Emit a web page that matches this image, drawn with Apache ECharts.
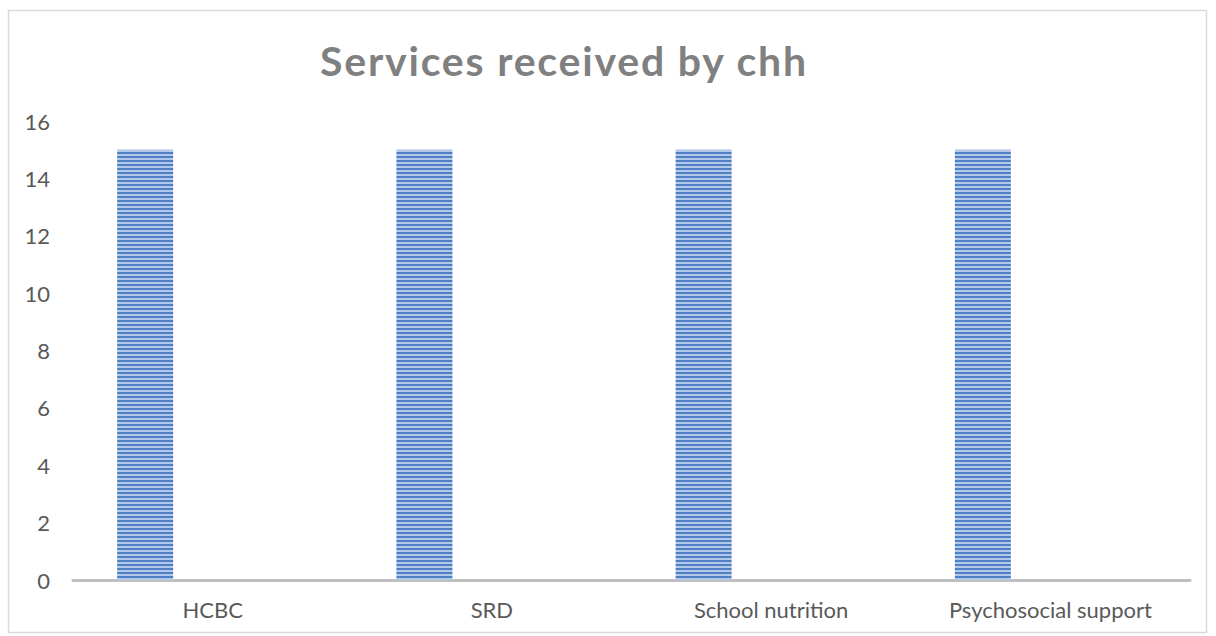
<!DOCTYPE html>
<html>
<head>
<meta charset="utf-8">
<script src="https://cdn.jsdelivr.net/npm/echarts@6/dist/echarts.min.js"></script>
<style>
html,body{margin:0;padding:0;background:#fff;}
#chart{width:1216px;height:636px;}
#chart text[style*="41px"]{letter-spacing:1.8px;}
</style>
</head>
<body>
<div id="chart"></div>
<script>
const titleText = 'Services received by chh';
const categories = ['HCBC', 'SRD', 'School nutrition', 'Psychosocial support'];
const seriesValues = [15, 15, 15, 15];
const emptySeries = [null, null, null, null];
const yMin = 0, yMax = 16, yInterval = 2;

function stripePattern() {
  const c = document.createElement('canvas');
  c.width = 4; c.height = 4;
  const ctx = c.getContext('2d');
  ctx.fillStyle = '#b3c8e8';
  ctx.fillRect(0, 0, 4, 4);
  ctx.fillStyle = '#4f7fc4';
  ctx.fillRect(0, 0, 4, 2);
  return c;
}

const chart = echarts.init(document.getElementById('chart'), null, { renderer: 'svg' });
chart.setOption({
  backgroundColor: '#fff',
  animation: false,
  graphic: [{
    type: 'rect',
    shape: { x: 8.5, y: 10.5, width: 1198, height: 622 },
    style: { fill: 'none', stroke: '#d9d9d9', lineWidth: 1.5 },
    silent: true,
    z: -1
  }],
  title: {
    text: titleText,
    left: 315,
    top: 35,
    textStyle: { fontFamily: 'Lato', fontWeight: 'bold', fontSize: 41, color: '#808080' }
  },
  grid: { left: 73, right: 26, top: 121, bottom: 56, containLabel: false },
  xAxis: {
    type: 'category',
    data: categories,
    axisLine: { lineStyle: { color: '#bfbfbf', width: 3 } },
    axisTick: { show: false },
    axisLabel: { color: '#595959', fontFamily: 'Lato', fontSize: 22, margin: 18 }
  },
  yAxis: {
    type: 'value',
    min: yMin, max: yMax, interval: yInterval,
    axisLine: { show: false },
    axisTick: { show: false },
    splitLine: { show: false },
    axisLabel: { color: '#595959', fontFamily: 'Lato', fontSize: 22, margin: 23 }
  },
  series: [{
    type: 'bar',
    data: seriesValues,
    barWidth: 56,
    barGap: '141%',
    itemStyle: { color: { image: stripePattern(), repeat: 'repeat' } }
  }, {
    type: 'bar',
    data: emptySeries,
    barWidth: 56,
    itemStyle: { color: '#ed7d31' }
  }]
});
</script>
</body>
</html>
